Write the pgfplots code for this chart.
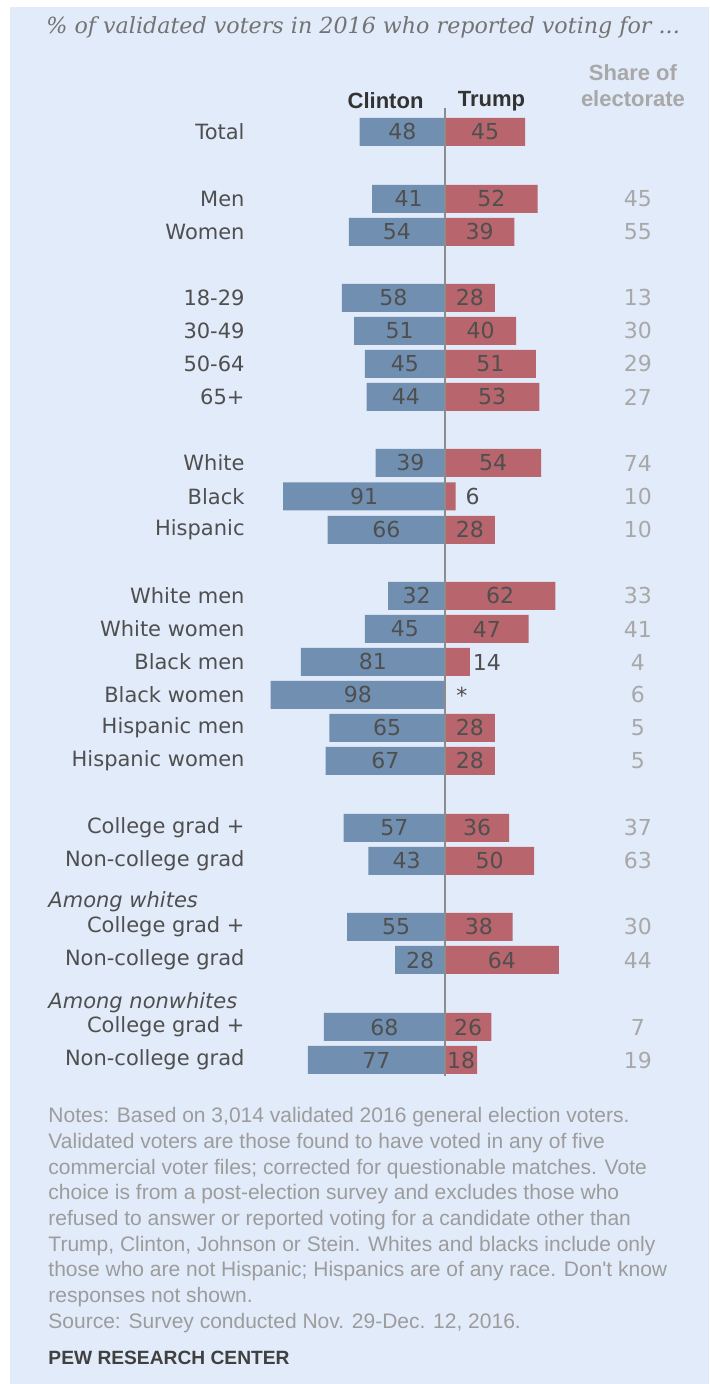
\documentclass[border=0pt]{standalone}
\usepackage{fontspec}
\setmainfont{DejaVu Sans}
\newfontfamily\lib{Liberation Sans}
\newfontfamily\serif{DejaVu Serif}
\usepackage{pgfplots}
\pgfplotsset{compat=1.18}
\usepackage{pgfplotstable}

\definecolor{bg}{HTML}{E2EBF9}
\definecolor{cblue}{HTML}{7190B1}
\definecolor{tred}{HTML}{B8656D}
\definecolor{lab}{HTML}{4F4F4F}
\definecolor{light}{HTML}{A8A8A8}
\definecolor{note}{HTML}{9C9C9C}

% y = row centre in pixels from the top
\pgfplotstableread[col sep=comma]{
y,clinton,trump,tlab,share,label
132,48,45,45,,Total
199,41,52,52,45,Men
232,54,39,39,55,Women
298,58,28,28,13,18-29
331,51,40,40,30,30-49
364,45,51,51,29,50-64
397,44,53,53,27,65+
463,39,54,54,74,White
496.5,91,6,6,10,Black
530,66,28,28,10,Hispanic
596,32,62,62,33,White men
629,45,47,47,41,White women
662,81,14,14,4,Black men
695,98,0,*,6,Black women
728,65,28,28,5,Hispanic men
761,67,28,28,5,Hispanic women
828,57,36,36,37,College grad +
861,43,50,50,63,Non-college grad
927,55,38,38,30,College grad +
960,28,64,64,44,Non-college grad
1027,68,26,26,7,College grad +
1060,77,18,18,19,Non-college grad
}\data

\begin{document}
\begin{tikzpicture}
\begin{axis}[
    scale only axis,
    width=354.5pt,
    height=692pt,
    xmin=-250, xmax=148.315,
    ymin=-1384, ymax=0,
    hide axis,
    clip=false,
]
% background
\fill[white] (rel axis cs:0,0) rectangle (rel axis cs:1,1);
\fill[bg] (rel axis cs:0.0141,0) rectangle (rel axis cs:1,0.99494);

% bars
\addplot[xbar, bar width=28, bar shift=0pt, fill=cblue, draw=none]
    table[x expr=-\thisrow{clinton}, y expr=-\thisrow{y}]{\data};
\addplot[xbar, bar width=28, bar shift=0pt, fill=tred, draw=none]
    table[x=trump, y expr=-\thisrow{y}]{\data};

% centre line
\addplot[color=black!45, line width=0.8pt] coordinates {(0,-108) (0,-1076)};

% value labels
\addplot[draw=none, mark=none, nodes near coords, point meta=explicit symbolic,
    every node near coord/.append style={anchor=center, font=\fontsize{11}{13}\selectfont, text=lab}]
    table[x expr=-\thisrow{clinton}/2, y expr=-\thisrow{y}, meta=clinton]{\data};
\addplot[draw=none, mark=none, nodes near coords, point meta=explicit symbolic,
    every node near coord/.append style={anchor=center, font=\fontsize{11}{13}\selectfont, text=lab}]
    table[x expr={ifthenelse(\thisrow{trump}<15,\thisrow{trump}+9.5,\thisrow{trump}/2)},
          y expr=-\thisrow{y}, meta=tlab]{\data};
% share of electorate
\addplot[draw=none, mark=none, nodes near coords, point meta=explicit symbolic,
    every node near coord/.append style={anchor=center, font=\fontsize{11}{13}\selectfont, text=light}]
    table[x expr=108.4, y expr=-\thisrow{y}, meta=share]{\data};
% row labels
\addplot[draw=none, mark=none, nodes near coords, point meta=explicit symbolic,
    every node near coord/.append style={anchor=east, inner xsep=0pt, font=\fontsize{10.5}{13}\selectfont, text=lab}]
    table[x expr=-112.4, y expr=-\thisrow{y}, meta=label]{\data};

% title and headers
\node[font=\serif\itshape\fontsize{11.1}{13}\selectfont, text=black!55] at (axis cs:-46,-28)
    {\% of validated voters in 2016 who reported voting for ...};
\node[font=\lib\bfseries\fontsize{11}{13}\selectfont, text=black!80] at (axis cs:-33.4,-101) {Clinton};
\node[font=\lib\bfseries\fontsize{11}{13}\selectfont, text=black!80] at (axis cs:26.1,-101) {Trump};
\node[font=\lib\bfseries\fontsize{11}{13}\selectfont, text=light, align=center] at (axis cs:105.6,-86)
    {Share of\\electorate};

% group headings
\node[anchor=west, inner xsep=0pt, font=\itshape\fontsize{10.5}{13}\selectfont, text=lab] at (axis cs:-223,-902) {Among whites};
\node[anchor=west, inner xsep=0pt, font=\itshape\fontsize{10.5}{13}\selectfont, text=lab] at (axis cs:-223,-1003) {Among nonwhites};

% notes
\node[anchor=north west, inner sep=0pt, align=left, text=note,
      font=\lib\fontsize{10.5}{12.85}\selectfont] at (axis cs:-223,-1107) {%
Notes: Based on 3,014 validated 2016 general election voters.\\
Validated voters are those found to have voted in any of five\\
commercial voter files; corrected for questionable matches. Vote\\
choice is from a post-election survey and excludes those who\\
refused to answer or reported voting for a candidate other than\\
Trump, Clinton, Johnson or Stein. Whites and blacks include only\\
those who are not Hispanic; Hispanics are of any race. Don't know\\
responses not shown.\\
Source: Survey conducted Nov. 29-Dec. 12, 2016.};
\node[anchor=west, inner xsep=0pt, font=\lib\bfseries\fontsize{9.6}{12}\selectfont, text=black!75] at (axis cs:-223,-1358)
    {PEW RESEARCH CENTER};
\end{axis}
\end{tikzpicture}
\end{document}
